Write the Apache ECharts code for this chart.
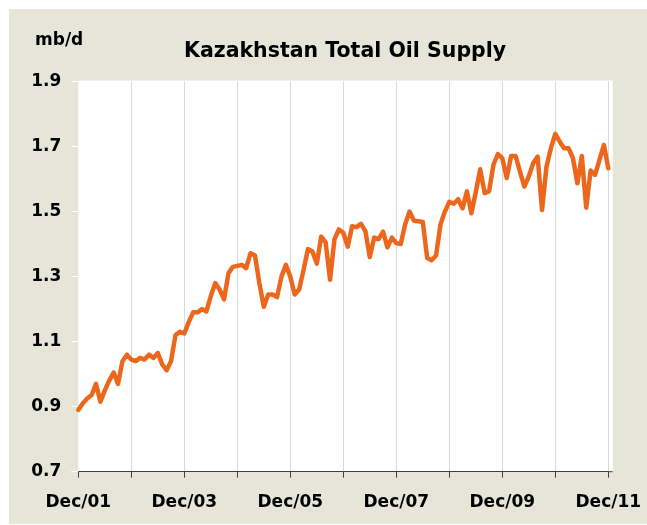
<!DOCTYPE html>
<html>
<head>
<meta charset="utf-8">
<script src="https://cdn.jsdelivr.net/npm/echarts@6/dist/echarts.min.js"></script>
<style>
html,body{margin:0;padding:0;background:#ffffff;}
#chart{width:647px;height:525px;}
</style>
</head>
<body>
<div id="chart"></div>
<script>
// ---- Data ----
const titleText = 'Kazakhstan Total Oil Supply';
const unitText = 'mb/d';
const monthNames = ['Jan','Feb','Mar','Apr','May','Jun','Jul','Aug','Sep','Oct','Nov','Dec'];
const startYear = 2001;     // first point: Dec/01
const startMonth = 11;      // index of Dec
const yTicks = [0.7, 0.9, 1.1, 1.3, 1.5, 1.7, 1.9];
const tickLabels = ['Dec/01','Dec/03','Dec/05','Dec/07','Dec/09','Dec/11'];

// monthly supply, Dec/01 .. Dec/11 (mb/d)
const supply2002 = [0.89, 0.91, 0.925, 0.935, 0.97, 0.915, 0.95, 0.98, 1.005, 0.97, 1.04, 1.06];
const supply2003 = [1.045, 1.04, 1.05, 1.045, 1.06, 1.05, 1.065, 1.03, 1.012, 1.04, 1.12, 1.13];
const supply2004 = [1.125, 1.16, 1.19, 1.19, 1.2, 1.193, 1.24, 1.28, 1.26, 1.23, 1.31, 1.33];
const supply2005 = [1.333, 1.336, 1.326, 1.372, 1.365, 1.28, 1.207, 1.245, 1.245, 1.237, 1.3, 1.336];
const supply2006 = [1.3, 1.245, 1.26, 1.32, 1.385, 1.377, 1.34, 1.423, 1.405, 1.29, 1.415, 1.445];
const supply2007 = [1.435, 1.392, 1.455, 1.452, 1.462, 1.44, 1.36, 1.42, 1.415, 1.438, 1.39, 1.42];
const supply2008 = [1.403, 1.40, 1.46, 1.50, 1.472, 1.47, 1.468, 1.357, 1.35, 1.365, 1.46, 1.50];
const supply2009 = [1.53, 1.524, 1.538, 1.51, 1.562, 1.495, 1.56, 1.63, 1.557, 1.562, 1.644, 1.677];
const supply2010 = [1.664, 1.603, 1.671, 1.671, 1.623, 1.577, 1.608, 1.649, 1.669, 1.505, 1.638, 1.695];
const supply2011 = [1.739, 1.715, 1.695, 1.695, 1.664, 1.587, 1.671, 1.512, 1.626, 1.613, 1.659, 1.705];
const supplyLast = [1.633];

const values = [].concat(supply2002, supply2003, supply2004, supply2005, supply2006,
  supply2007, supply2008, supply2009, supply2010, supply2011, supplyLast);

const categories = values.map(function (v, i) {
  const m = startMonth + i;
  const yr = startYear + Math.floor(m / 12);
  return monthNames[m % 12] + '/' + String(yr % 100).padStart(2, '0');
});

// ---- Chart ----
const FONT = '"DejaVu Sans", "Liberation Sans", Arial, sans-serif';
const chart = echarts.init(document.getElementById('chart'), null, {renderer: 'canvas'});

const gridLeft = 78.3, gridRight = 38.7, gridTop = 81.5, gridBottom = 53.3;
const W = 647, H = 525;

chart.setOption({
  animation: false,
  backgroundColor: '#ffffff',
  graphic: [
    {type: 'rect', z: -100, silent: true,
     shape: {x: 9, y: 9, width: W - 9, height: H - 10},
     style: {fill: '#E6E6D8'}},
    {type: 'rect', z: -50, silent: true,
     shape: {x: gridLeft, y: gridTop - 1, width: W - gridRight - gridLeft + 4.4, height: H - gridBottom - gridTop + 1},
     style: {fill: '#ffffff'}},
    {type: 'line', z: 5, silent: true,
     shape: {x1: W - gridRight, y1: H - gridBottom, x2: W - gridRight + 4.4, y2: H - gridBottom},
     style: {stroke: '#404040', lineWidth: 1}}
  ],
  title: [
    {text: titleText, left: 184, top: 41, padding: 0,
     textStyle: {fontFamily: FONT, fontWeight: 'bold', fontSize: 20.5, color: '#000000'}},
    {text: unitText, left: 35, top: 32, padding: 0,
     textStyle: {fontFamily: FONT, fontWeight: 'bold', fontSize: 17, color: '#000000'}}
  ],
  grid: {left: gridLeft, right: gridRight, top: gridTop, bottom: gridBottom, containLabel: false},
  xAxis: {
    type: 'category',
    data: categories,
    boundaryGap: false,
    axisLine: {show: true, lineStyle: {color: '#404040', width: 1}},
    axisTick: {show: true, interval: 11, length: 6, inside: false, lineStyle: {color: '#404040', width: 1}},
    axisLabel: {
      interval: 23, margin: 22,
      fontFamily: FONT, fontWeight: 'bold', fontSize: 17, color: '#000000',
      formatter: function (v) { return tickLabels.indexOf(v) >= 0 ? v : ''; }
    },
    splitLine: {show: true, interval: 11, showMinLine: false, showMaxLine: true,
      lineStyle: {color: '#D9D9D9', width: 1}}
  },
  yAxis: {
    type: 'value',
    min: yTicks[0], max: yTicks[yTicks.length - 1], interval: 0.2,
    axisLine: {show: false},
    axisTick: {show: true, length: 7, inside: false, lineStyle: {color: '#ffffff', width: 1}},
    axisLabel: {
      margin: 17,
      fontFamily: FONT, fontWeight: 'bold', fontSize: 17, color: '#000000',
      formatter: function (v) { return v.toFixed(1); }
    },
    splitLine: {show: false}
  },
  series: [{
    type: 'line',
    data: values,
    showSymbol: false,
    symbol: 'none',
    smooth: false,
    lineStyle: {color: '#EC671C', width: 4.5, cap: 'round', join: 'round'},
    z: 3
  }]
});
</script>
</body>
</html>
